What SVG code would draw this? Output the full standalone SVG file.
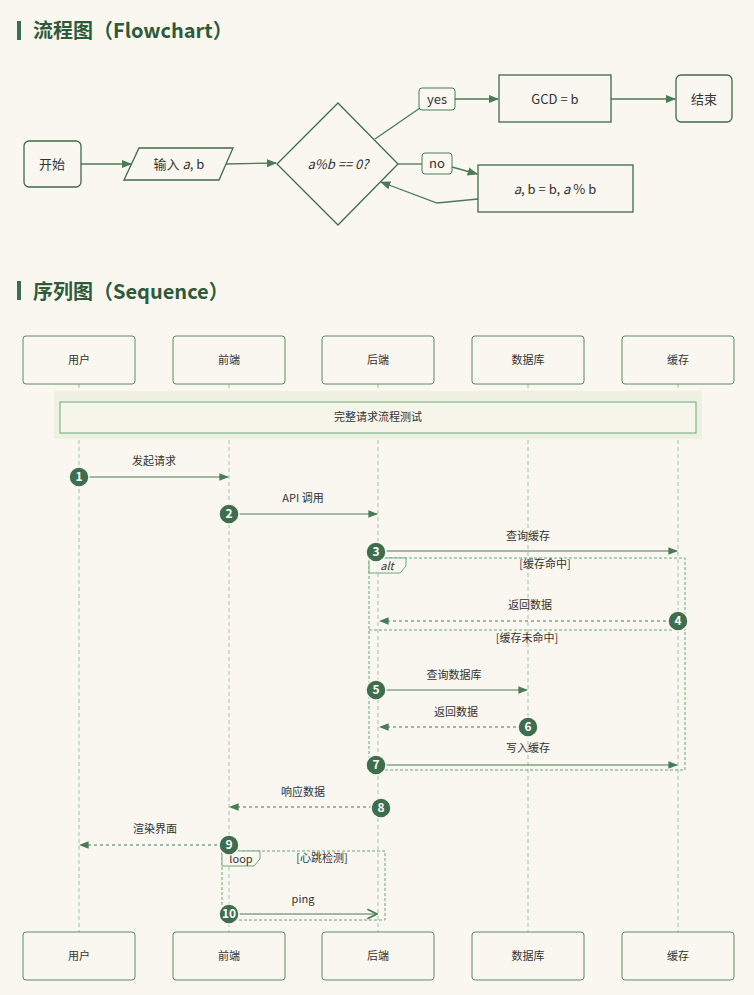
<svg xmlns="http://www.w3.org/2000/svg" width="754" height="995" viewBox="0 0 754 995">
<style>
text{font-family:"Noto Sans CJK SC","Noto Sans",sans-serif;fill:#333}
.t{font-size:20px;font-weight:bold;fill:#2e5a3a}
.n{fill:#f9f7ef;stroke:#3f6b4a;stroke-width:1.3}
.s{fill:#f9f7ef;stroke:#5a8a66;stroke-width:1}
.e{stroke:#4a7a56;stroke-width:1.3;fill:none}
.lab{fill:#f9f7ef;stroke:#4a7a56;stroke-width:1}
.ll{stroke:#9cc8a6;stroke-dasharray:4 3;stroke-width:1}
.m{stroke:#4a7a56;stroke-width:1.2;fill:none}
.d{stroke-dasharray:3 3}
.f{fill:none;stroke:#6aa878;stroke-dasharray:3 2;stroke-width:1}
.c{fill:#3d6e4d;stroke:#f9f7ef;stroke-width:1.5}
.cn{font-size:12px;font-weight:bold;fill:#fff;text-anchor:middle}
.ft{font-size:13px;text-anchor:middle}
.st{font-size:11px;text-anchor:middle}
</style>
<defs>
<marker id="a" viewBox="0 0 10 10" refX="9" refY="5" markerWidth="8" markerHeight="8" orient="auto"><path d="M0,1L10,5L0,9z" fill="#4a7a56"/></marker>
<marker id="o" viewBox="0 0 10 10" refX="9" refY="5" markerWidth="10" markerHeight="10" orient="auto"><path d="M1,1L9,5L1,9" fill="none" stroke="#4a7a56" stroke-width="1.5"/></marker>
</defs>
<rect width="754" height="995" fill="#f9f7ef"/>
<rect x="17" y="21" width="4" height="19" fill="#3d6e4d"/>
<text class="t" x="33" y="38">流程图（Flowchart）</text>
<rect x="17" y="281" width="4" height="19" fill="#3d6e4d"/>
<text class="t" x="33" y="299">序列图（Sequence）</text>

<g id="edges">
<line class="e" x1="81" y1="164" x2="131" y2="164" marker-end="url(#a)"/>
<line class="e" x1="226" y1="164" x2="276" y2="163" marker-end="url(#a)"/>
<line class="e" x1="375" y1="139" x2="420" y2="108"/>
<line class="e" x1="455" y1="99" x2="498" y2="99" marker-end="url(#a)"/>
<line class="e" x1="611" y1="99" x2="675" y2="99" marker-end="url(#a)"/>
<line class="e" x1="398" y1="164" x2="422" y2="164"/>
<line class="e" x1="452" y1="167" x2="477" y2="174" marker-end="url(#a)"/>
<polyline class="e" points="478,199 437,203 381,182" marker-end="url(#a)"/>
</g>
<g id="yes"><rect class="lab" x="419" y="88" width="36" height="22" rx="3"/><text class="ft" x="437" y="104">yes</text></g>
<g id="no"><rect class="lab" x="422" y="153" width="30" height="21" rx="3"/><text class="ft" x="437" y="168">no</text></g>
<g id="start"><rect class="n" x="24" y="141" width="57" height="46" rx="5"/><text class="ft" x="52" y="169">开始</text></g>
<g id="input"><polygon class="n" points="139,148 233,148 219,180 124,180"/><text class="ft" x="179" y="169">输入 <tspan font-style="italic">a</tspan>, b</text></g>
<g id="cond"><polygon class="n" points="338,103 398,164 338,225 277,164"/><text class="ft" x="338" y="169" font-style="italic">a%b == 0?</text></g>
<g id="gcd"><rect class="n" x="499" y="75" width="112" height="47"/><text class="ft" x="555" y="104">GCD = b</text></g>
<g id="end"><rect class="n" x="676" y="75" width="56" height="47" rx="5"/><text class="ft" x="704" y="104">结束</text></g>
<g id="swap"><rect class="n" x="478" y="165" width="155" height="47"/><text class="ft" x="555" y="194"><tspan font-style="italic">a</tspan>, b = b, <tspan font-style="italic">a</tspan> % b</text></g>

<g id="lifelines">
<line class="ll" x1="79" y1="384" x2="79" y2="932"/>
<line class="ll" x1="229" y1="384" x2="229" y2="932"/>
<line class="ll" x1="378" y1="384" x2="378" y2="932"/>
<line class="ll" x1="528" y1="384" x2="528" y2="932"/>
<line class="ll" x1="678" y1="384" x2="678" y2="932"/>
</g>
<g id="actors">
<rect class="s" x="23" y="336" width="112" height="48" rx="3"/><text class="st" x="79" y="364">用户</text>
<rect class="s" x="173" y="336" width="112" height="48" rx="3"/><text class="st" x="229" y="364">前端</text>
<rect class="s" x="322" y="336" width="112" height="48" rx="3"/><text class="st" x="378" y="364">后端</text>
<rect class="s" x="472" y="336" width="112" height="48" rx="3"/><text class="st" x="528" y="364">数据库</text>
<rect class="s" x="622" y="336" width="112" height="48" rx="3"/><text class="st" x="678" y="364">缓存</text>
<rect class="s" x="23" y="932" width="112" height="48" rx="3"/><text class="st" x="79" y="960">用户</text>
<rect class="s" x="173" y="932" width="112" height="48" rx="3"/><text class="st" x="229" y="960">前端</text>
<rect class="s" x="322" y="932" width="112" height="48" rx="3"/><text class="st" x="378" y="960">后端</text>
<rect class="s" x="472" y="932" width="112" height="48" rx="3"/><text class="st" x="528" y="960">数据库</text>
<rect class="s" x="622" y="932" width="112" height="48" rx="3"/><text class="st" x="678" y="960">缓存</text>
</g>
<g id="note">
<rect x="54" y="391" width="648" height="48" fill="#eef0e2"/>
<rect x="60" y="402" width="636" height="31" fill="#f6f5ea" stroke="#6aa878" stroke-width="1"/>
<text class="st" x="378" y="421">完整请求流程测试</text>
</g>
<g id="frames">
<rect class="f" x="369" y="558" width="316" height="212"/>
<path d="M369,558H406V566L400,573H369z" fill="#f9f7ef" stroke="#6aa878" stroke-width="1"/>
<text class="st" x="387" y="570" font-style="italic">alt</text>
<text class="st" x="545" y="568">[缓存命中]</text>
<line class="f" x1="369" y1="630" x2="685" y2="630"/>
<text class="st" x="527" y="642">[缓存未命中]</text>
<rect class="f" x="222" y="851" width="163" height="69"/>
<path d="M222,851H260V859L254,866H222z" fill="#f9f7ef" stroke="#6aa878" stroke-width="1"/>
<text class="st" x="241" y="863">loop</text>
<text class="st" x="322" y="862">[心跳检测]</text>
</g>
<g id="messages">
<line class="m" x1="79" y1="477" x2="228" y2="477" marker-end="url(#a)"/><text class="st" x="154" y="465">发起请求</text>
<line class="m" x1="229" y1="514" x2="377" y2="514" marker-end="url(#a)"/><text class="st" x="303" y="502">API 调用</text>
<line class="m" x1="378" y1="551" x2="677" y2="551" marker-end="url(#a)"/><text class="st" x="528" y="540">查询缓存</text>
<line class="m d" x1="678" y1="621" x2="380" y2="621" marker-end="url(#a)"/><text class="st" x="530" y="609">返回数据</text>
<line class="m" x1="378" y1="690" x2="527" y2="690" marker-end="url(#a)"/><text class="st" x="454" y="679">查询数据库</text>
<line class="m d" x1="528" y1="727" x2="380" y2="727" marker-end="url(#a)"/><text class="st" x="456" y="716">返回数据</text>
<line class="m" x1="378" y1="765" x2="677" y2="765" marker-end="url(#a)"/><text class="st" x="528" y="752">写入缓存</text>
<line class="m d" x1="378" y1="807" x2="230" y2="807" marker-end="url(#a)"/><text class="st" x="303" y="796">响应数据</text>
<line class="m d" x1="229" y1="845" x2="80" y2="845" marker-end="url(#a)"/><text class="st" x="155" y="833">渲染界面</text>
<line class="m" x1="229" y1="914" x2="377" y2="914" stroke-width="1.6" marker-end="url(#o)"/><text class="st" x="303" y="903">ping</text>
</g>
<g id="badges">
<circle class="c" cx="79" cy="477" r="10"/><text class="cn" x="79" y="481">1</text>
<circle class="c" cx="229" cy="514" r="10"/><text class="cn" x="229" y="518">2</text>
<circle class="c" cx="376" cy="552" r="10"/><text class="cn" x="376" y="556">3</text>
<circle class="c" cx="678" cy="621" r="10"/><text class="cn" x="678" y="625">4</text>
<circle class="c" cx="376" cy="690" r="10"/><text class="cn" x="376" y="694">5</text>
<circle class="c" cx="528" cy="727" r="10"/><text class="cn" x="528" y="731">6</text>
<circle class="c" cx="376" cy="765" r="10"/><text class="cn" x="376" y="769">7</text>
<circle class="c" cx="381" cy="808" r="10"/><text class="cn" x="381" y="812">8</text>
<circle class="c" cx="229" cy="845" r="10"/><text class="cn" x="229" y="849">9</text>
<circle class="c" cx="229" cy="914" r="10"/><text class="cn" x="229" y="918">10</text>
</g>
</svg>
